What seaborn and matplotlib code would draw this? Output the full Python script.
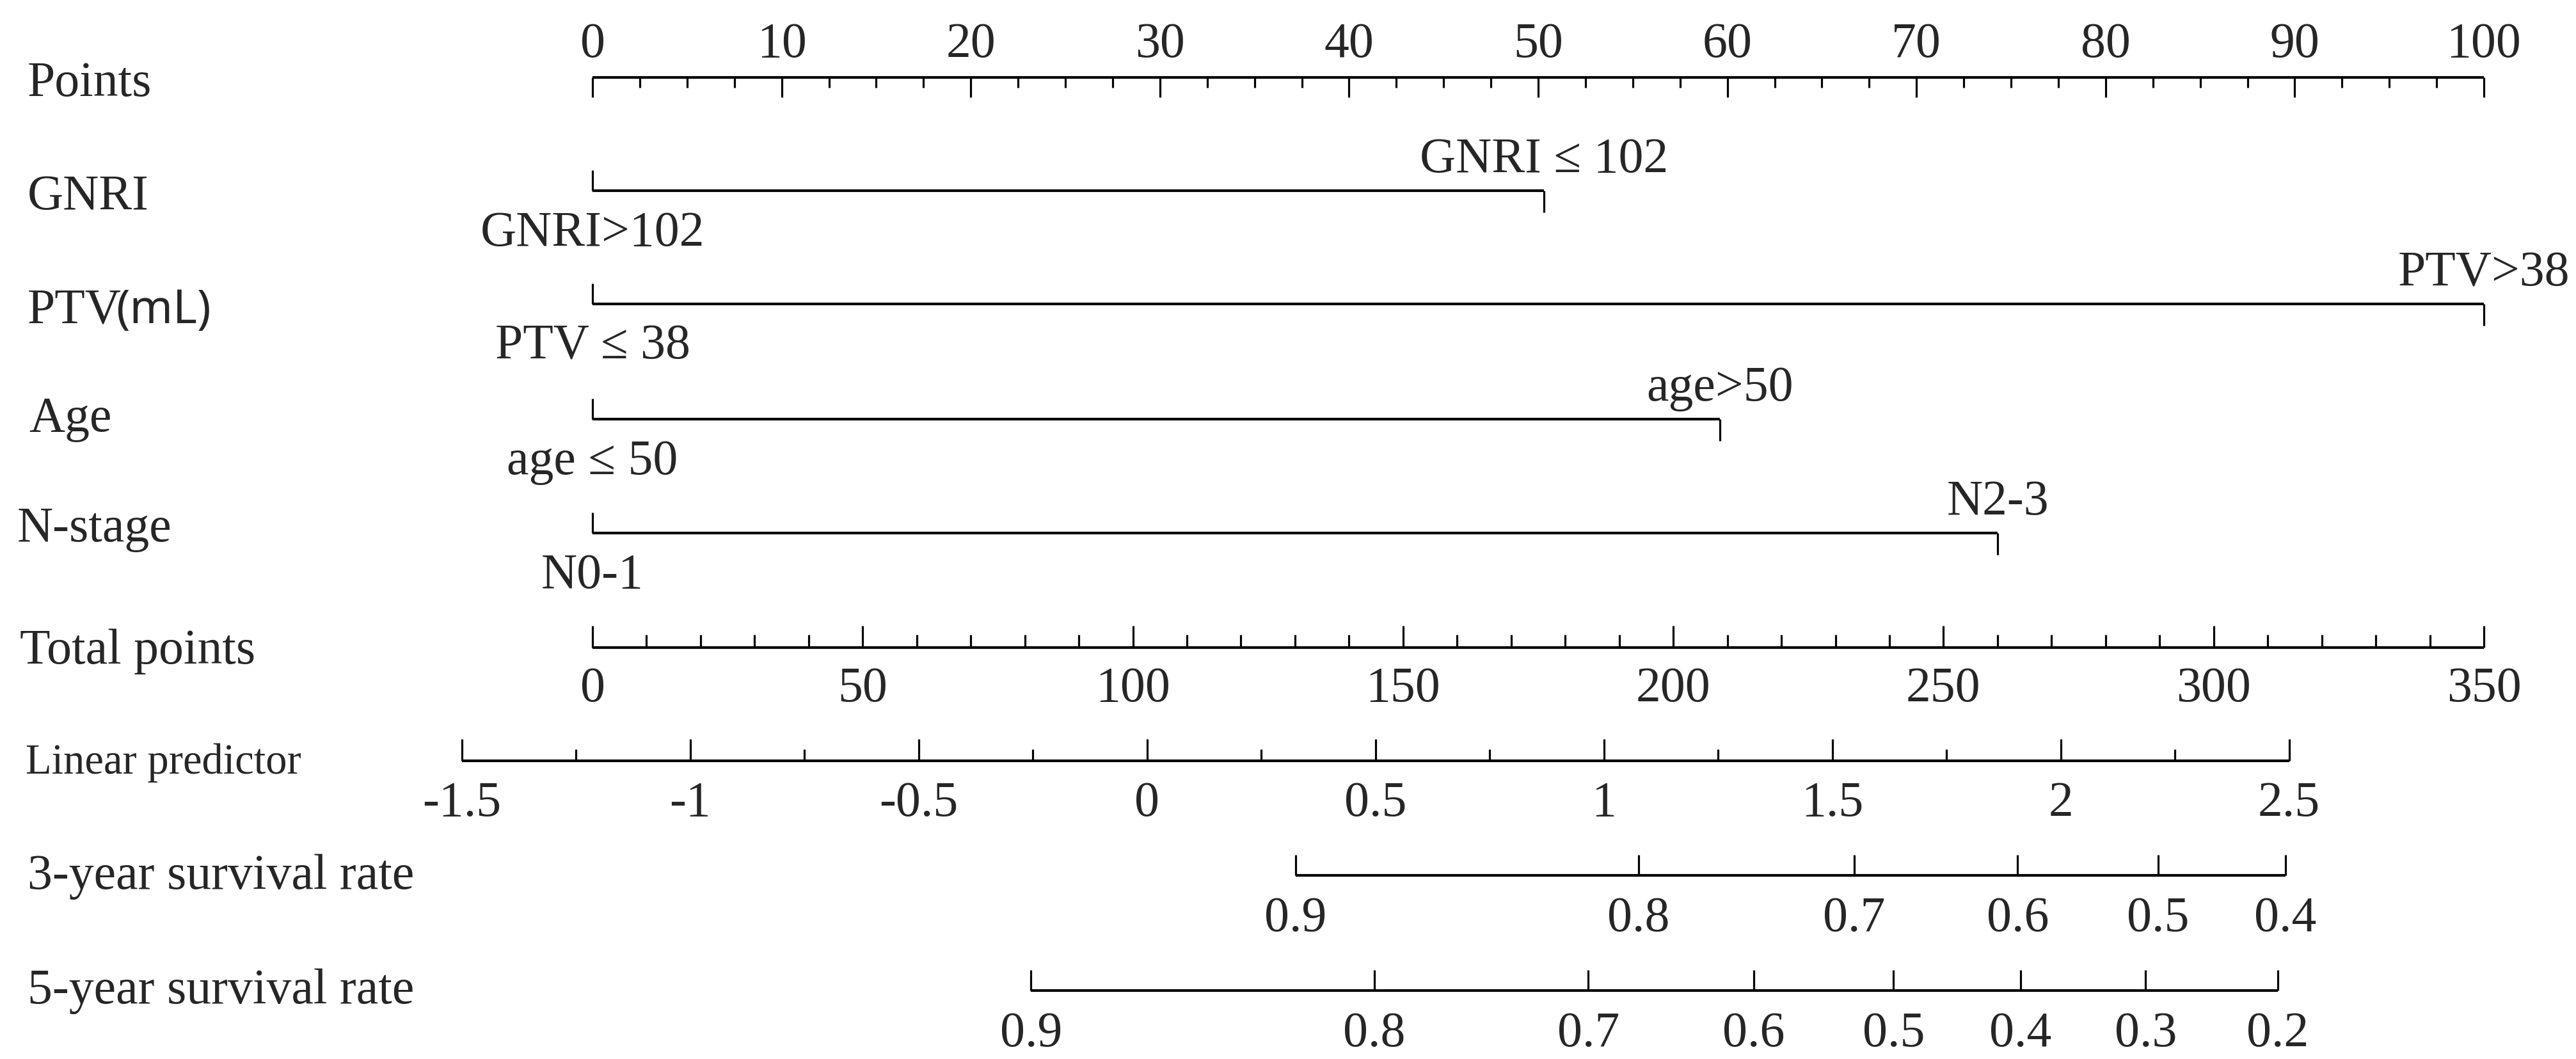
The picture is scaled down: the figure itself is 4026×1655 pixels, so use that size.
import numpy as np
import pandas as pd
import matplotlib
matplotlib.use("Agg")
import matplotlib.pyplot as plt
import seaborn as sns
from matplotlib.transforms import blended_transform_factory

# ---------------- data ----------------
row_labels = ["Points", "GNRI", "PTV", "Age", "N-stage", "Total points",
              "Linear predictor", "3-year survival rate", "5-year survival rate"]

points_ticks = [0, 10, 20, 30, 40, 50, 60, 70, 80, 90, 100]
points_minor_step = 2.5

var_low_labels = ["GNRI>102", "PTV ≤ 38", "age ≤ 50", "N0-1"]
var_high_labels = ["GNRI ≤ 102", "PTV>38", "age>50", "N2-3"]
var_low_points = [0, 0, 0, 0]
var_high_points = [50.3, 100, 59.6, 74.3]

total_ticks = [0, 50, 100, 150, 200, 250, 300, 350]
total_minor_step = 10
total_max = 350          # total-points scale spans the same width as 0-100 points

lp_ticks = [-1.5, -1, -0.5, 0, 0.5, 1, 1.5, 2, 2.5]
lp_minor_step = 0.25
lp_intercept = -1.214    # linear predictor at 0 total points
lp_slope = 0.01183       # linear predictor per total point

surv3_values = [0.9, 0.8, 0.7, 0.6, 0.5, 0.4]
surv3_lp = [0.325, 1.076, 1.548, 1.906, 2.213, 2.492]
surv5_values = [0.9, 0.8, 0.7, 0.6, 0.5, 0.4, 0.3, 0.2]
surv5_lp = [-0.254, 0.497, 0.966, 1.328, 1.634, 1.912, 2.186, 2.475]

# ---------------- layout (pixels of a 4026 x 1655 canvas) ----------------
W, H = 4026, 1655
x0_px, px_per_point = 926, 29.56
row_y = [121, 298, 475, 655, 833, 1012, 1189, 1368, 1548]
label_x_px = [43, 43, 43, 45, 27, 31, 40, 43, 43]
label_base_off = [29, 29, 30, 19, 13, 25, 20, 21, 20]

SERIF = ["Liberation Serif", "DejaVu Serif"]
FS = 56
AX_LW = 3.0
TK_LW = 2.3

sns.set_theme(style="white")
plt.rcParams["font.family"] = SERIF

def tp_to_pts(tp):
    return np.asarray(tp, dtype=float) * 100.0 / total_max

def lp_to_pts(lp):
    return tp_to_pts((np.asarray(lp, dtype=float) - lp_intercept) / lp_slope)

fig = plt.figure(figsize=(W / 100, H / 100), dpi=100)
ax = fig.add_axes([0, 0, 1, 1])
ax.set_xlim(-x0_px / px_per_point, (W - x0_px) / px_per_point)
ax.set_ylim(H, 0)
ax.set_axis_off()
fig.patch.set_facecolor("white")

lbl_tr = blended_transform_factory(ax.transAxes, ax.transData)

# ---------- horizontal axis lines through seaborn ----------
segs = []
def add_seg(xa, xb, y, sid):
    segs.append({"x": float(xa), "y": y, "seg": sid})
    segs.append({"x": float(xb), "y": y, "seg": sid})

add_seg(points_ticks[0], points_ticks[-1], row_y[0], "points")
for i in range(4):
    add_seg(var_low_points[i], var_high_points[i], row_y[1 + i], f"var{i}")
add_seg(tp_to_pts(total_ticks[0]), tp_to_pts(total_ticks[-1]), row_y[5], "total")
add_seg(lp_to_pts(lp_ticks[0]), lp_to_pts(lp_ticks[-1]), row_y[6], "lp")
add_seg(lp_to_pts(surv3_lp[0]), lp_to_pts(surv3_lp[-1]), row_y[7], "s3")
add_seg(lp_to_pts(surv5_lp[0]), lp_to_pts(surv5_lp[-1]), row_y[8], "s5")
seg_df = pd.DataFrame(segs)
sns.lineplot(data=seg_df, x="x", y="y", units="seg", estimator=None, sort=False,
             color="black", linewidth=AX_LW, legend=False, ax=ax,
             solid_capstyle="butt")
ax.set_xlabel("")
ax.set_ylabel("")

def ticks(xs, y, length):
    ax.vlines(xs, y, y + length, color="black", linewidth=TK_LW)

def num(v):
    return f"{v:g}"

# ---------- Points axis (ticks down, labels above) ----------
y = row_y[0]
pm = [v for v in np.arange(points_ticks[0], points_ticks[-1] + 1e-9, points_minor_step)
      if not np.isclose(v % 10, 0) and not np.isclose(v % 10, 10)]
ticks(pm, y, 16)
ticks(points_ticks, y, 31)
for v in points_ticks:
    ax.text(v, y - 32, num(v), ha="center", va="baseline", fontsize=FS)

# ---------- variable rows ----------
for i in range(4):
    y = row_y[1 + i]
    ticks([var_low_points[i]], y, -32)
    ticks([var_high_points[i]], y, 34)
    ax.text(var_high_points[i], y - 29, var_high_labels[i], ha="center",
            va="baseline", fontsize=FS)
    ax.text(var_low_points[i], y + 86, var_low_labels[i], ha="center",
            va="baseline", fontsize=FS)

# ---------- Total points (ticks up, labels below) ----------
y = row_y[5]
tm = [v for v in np.arange(total_ticks[0], total_ticks[-1] + 1e-9, total_minor_step)
      if v % 50 != 0]
ticks(tp_to_pts(tm), y, -20)
ticks(tp_to_pts(total_ticks), y, -34)
for v in total_ticks:
    ax.text(tp_to_pts(v), y + 84, num(v), ha="center", va="baseline", fontsize=FS)

# ---------- Linear predictor ----------
y = row_y[6]
lm = [v for v in np.arange(lp_ticks[0], lp_ticks[-1] + 1e-9, lp_minor_step)
      if not np.isclose((v * 2) % 1, 0)]
ticks(lp_to_pts(lm), y, -18)
ticks(lp_to_pts(lp_ticks), y, -34)
for v in lp_ticks:
    ax.text(lp_to_pts(v), y + 86, num(v), ha="center", va="baseline", fontsize=FS)

# ---------- survival rows ----------
for r, vals, lps in [(7, surv3_values, surv3_lp), (8, surv5_values, surv5_lp)]:
    y = row_y[r]
    ticks(lp_to_pts(lps), y, -32)
    for v, lp in zip(vals, lps):
        ax.text(lp_to_pts(lp), y + 87, num(v), ha="center", va="baseline", fontsize=FS)

# ---------- row labels ----------
for i, lab in enumerate(row_labels):
    yb = row_y[i] + label_base_off[i]
    fs = 48 if lab == "Linear predictor" else FS
    if lab == "PTV":
        ax.text(label_x_px[i] / W, yb, "PTV", ha="left", va="baseline",
                fontsize=FS, transform=lbl_tr)
        ax.text(181 / W, yb, "(mL)", ha="left", va="baseline", fontsize=52,
                family=["Noto Sans", "DejaVu Sans"], transform=lbl_tr)
    else:
        ax.text(label_x_px[i] / W, yb, lab, ha="left", va="baseline",
                fontsize=fs, transform=lbl_tr)

fig.savefig("out.png", dpi=100, facecolor="white")
